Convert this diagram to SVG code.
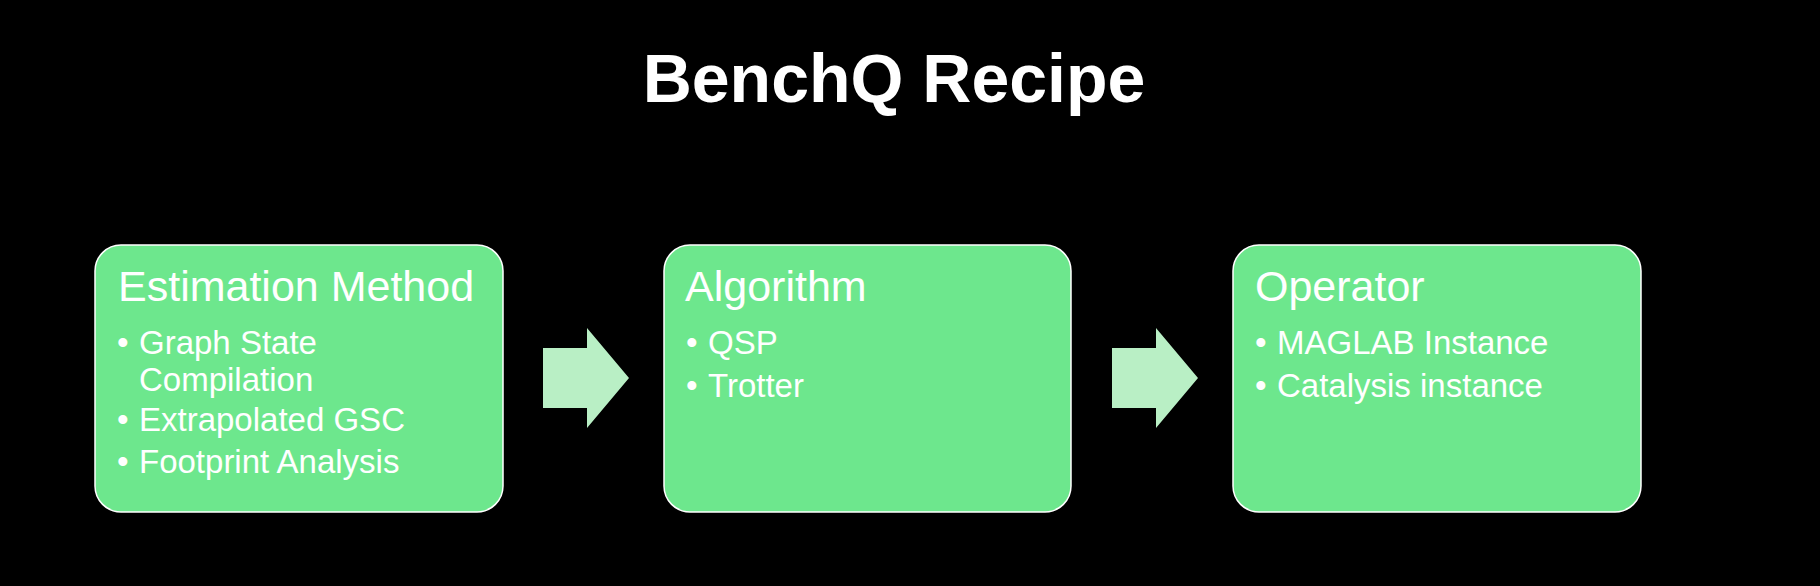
<svg xmlns="http://www.w3.org/2000/svg" width="1820" height="586" viewBox="0 0 1820 586">
<style>
.box{fill:#6de78d;stroke:#ffffff;stroke-width:1.5}
.arrow{fill:#b9efc5}
.t{font-family:"Liberation Sans",Arial,Helvetica,sans-serif;fill:#ffffff}
.title{font-size:68px;font-weight:bold}
.head{font-size:43px}
.item{font-size:33px}
</style>
<rect width="1820" height="586" fill="#000000"/>
<text class="t title" x="894" y="102" text-anchor="middle">BenchQ Recipe</text>
<g id="node-estimation">
<rect class="box" x="95" y="245" width="408" height="267" rx="26" ry="26"/>
<text class="t head" x="118" y="301">Estimation Method</text>
<text class="t item" x="117" y="354">•</text>
<text class="t item" x="139" y="354">Graph State</text>
<text class="t item" x="139" y="391">Compilation</text>
<text class="t item" x="117" y="431">•</text>
<text class="t item" x="139" y="431">Extrapolated GSC</text>
<text class="t item" x="117" y="473">•</text>
<text class="t item" x="139" y="473">Footprint Analysis</text>
</g>
<g id="node-algorithm">
<rect class="box" x="664" y="245" width="407" height="267" rx="26" ry="26"/>
<text class="t head" x="685" y="301">Algorithm</text>
<text class="t item" x="686" y="354">•</text>
<text class="t item" x="708" y="354">QSP</text>
<text class="t item" x="686" y="397">•</text>
<text class="t item" x="708" y="397">Trotter</text>
</g>
<g id="node-operator">
<rect class="box" x="1233" y="245" width="408" height="267" rx="26" ry="26"/>
<text class="t head" x="1255" y="301">Operator</text>
<text class="t item" x="1255" y="354">•</text>
<text class="t item" x="1277" y="354">MAGLAB Instance</text>
<text class="t item" x="1255" y="397">•</text>
<text class="t item" x="1277" y="397">Catalysis instance</text>
</g>
<g id="connectors">
<polygon class="arrow" points="543,348 587,348 587,328 629,378 587,428 587,408 543,408"/>
<polygon class="arrow" points="1112,348 1156,348 1156,328 1198,378 1156,428 1156,408 1112,408"/>
</g>
</svg>
